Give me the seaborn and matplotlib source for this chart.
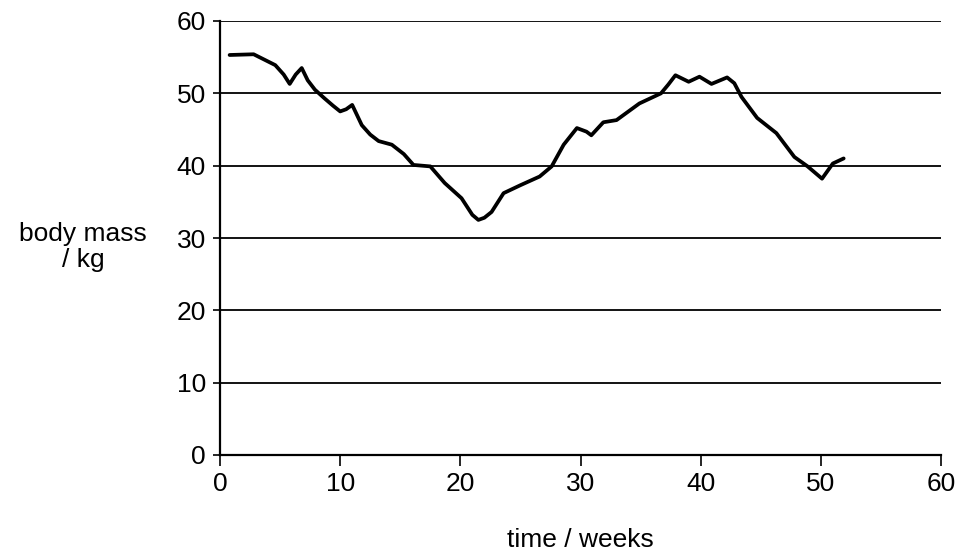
import matplotlib
matplotlib.use("Agg")
import matplotlib.pyplot as plt
import seaborn as sns
import pandas as pd

weeks = [0.8, 2.8, 4.6, 5.3, 5.8, 6.3, 6.8, 7.3, 7.9, 8.7, 9.4, 10.0, 10.5, 11.0,
         11.8, 12.5, 13.2, 14.3, 15.3, 16.1, 17.5, 18.7, 20.1, 21.0, 21.5, 22.0,
         22.6, 23.6, 25.0, 26.6, 27.6, 28.6, 29.7, 30.5, 30.9, 31.9, 33.0, 34.9,
         36.7, 37.3, 37.9, 39.0, 39.9, 40.9, 42.2, 42.8, 43.4, 44.7, 46.3, 47.8,
         48.9, 50.1, 51.0, 51.9]
body_mass = [55.3, 55.4, 53.9, 52.6, 51.3, 52.6, 53.5, 51.8, 50.5, 49.3, 48.3, 47.5,
             47.8, 48.4, 45.6, 44.3, 43.4, 42.9, 41.6, 40.1, 39.9, 37.6, 35.5, 33.2,
             32.5, 32.8, 33.6, 36.2, 37.3, 38.5, 39.9, 42.9, 45.2, 44.7, 44.2, 46.0,
             46.3, 48.6, 50.0, 51.2, 52.5, 51.6, 52.3, 51.3, 52.2, 51.4, 49.5, 46.6,
             44.5, 41.2, 39.9, 38.2, 40.3, 41.0]

x_ticks = [0, 10, 20, 30, 40, 50, 60]
y_ticks = [0, 10, 20, 30, 40, 50, 60]

df = pd.DataFrame({"weeks": weeks, "mass": body_mass})

sns.set_style("white")
plt.rcParams['font.family'] = ['Liberation Sans Narrow', 'Liberation Sans', 'DejaVu Sans']
plt.rcParams['text.color'] = 'black'
plt.rcParams['xtick.color'] = 'black'
plt.rcParams['ytick.color'] = 'black'

fig = plt.figure(figsize=(9.61, 5.60), dpi=100)
ax = fig.add_axes([220 / 961, 1 - 455 / 560, (941 - 220) / 961, (455 - 21) / 560])

for v in y_ticks[1:]:
    ax.axhline(v, color="black", lw=1.3, zorder=1)

sns.lineplot(data=df, x="weeks", y="mass", ax=ax, color="black", lw=2.7, zorder=3,
             solid_joinstyle="round", solid_capstyle="round")

ax.set_xlim(0, 60)
ax.set_ylim(0, 60)
ax.set_xticks(x_ticks)
ax.set_yticks(y_ticks)
ax.tick_params(axis="x", bottom=True, direction="out", length=8, width=1.2, labelsize=19, pad=4)
ax.tick_params(axis="y", left=True, direction="out", length=5, width=1.2, labelsize=19, pad=5)
for s in ["top", "right"]:
    ax.spines[s].set_visible(False)
for s in ["left", "bottom"]:
    ax.spines[s].set_color("black")
    ax.spines[s].set_linewidth(1.6)

ax.set_xlabel("")
ax.set_ylabel("")
fig.text(83 / 961, 1 - 247 / 560, "body mass\n/ kg", ha="center", va="center", fontsize=19, linespacing=1.15)
fig.text(580 / 961, 1 - 540 / 560, "time / weeks", ha="center", va="center", fontsize=19)

fig.savefig("out.png", dpi=100)
